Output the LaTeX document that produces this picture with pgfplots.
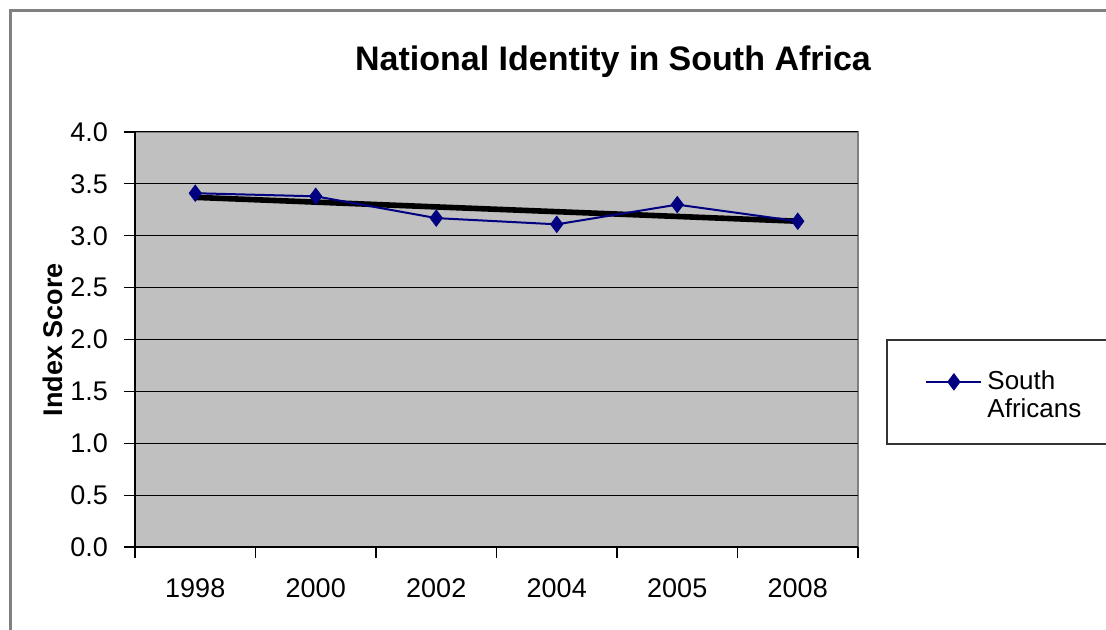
\documentclass[border=0pt]{standalone}
\usepackage{fontspec}
\setmainfont{Liberation Sans}
\usepackage{pgfplots}
\pgfplotsset{compat=1.18}
\definecolor{plotgray}{HTML}{C0C0C0}
\definecolor{navyblue}{HTML}{000080}
\begin{document}
\begin{tikzpicture}
\path[use as bounding box] (0,0) rectangle (553pt,315pt);
\draw[line width=1.5pt, color=gray] (5pt,0) -- (5pt,309.5pt) -- (553pt,309.5pt);
\node[font=\fontsize{17}{20}\selectfont\bfseries] at (306.5pt,284pt) {National Identity in South Africa};
\begin{axis}[
  at={(67.5pt,41.5pt)}, anchor=south west,
  scale only axis, width=361.5pt, height=207.5pt,
  xmin=-0.5, xmax=5.5, ymin=0, ymax=4,
  /pgf/number format/assume math mode=true,
  xtick={-0.5,0.5,...,5.5}, xticklabel=\empty,
  extra x ticks={0,1,2,3,4,5},
  extra x tick labels={1998,2000,2002,2004,2005,2008},
  extra x tick style={major tick length=0pt, grid=none, xticklabel style={yshift=-12.5pt}},
  ytick={0,0.5,...,4},
  yticklabel style={xshift=-4.5pt, /pgf/number format/fixed, /pgf/number format/fixed zerofill, /pgf/number format/precision=1},
  ymajorgrids, major grid style={black, line width=0.5pt},
  axis lines*=left, tick align=outside, major tick length=5.5pt,
  tick style={black, line width=0.6pt},
  axis line style={black, line width=0.8pt},
  axis background/.style={fill=plotgray, draw=gray, line width=1pt},
  tick label style={font=\fontsize{13.5}{16}\selectfont},
  ylabel={\bfseries Index Score},
  ylabel style={font=\fontsize{13.5}{16}\selectfont, at={(axis description cs:0,0.5)}, anchor=center, yshift=41pt},
  legend style={at={(axis description cs:1.0927,0.430)}, anchor=north west, draw=none, fill=none, inner sep=0pt,
    nodes={inner sep=1pt, font=\fontsize{13}{14}\selectfont}},
  legend cell align=left,
  legend image code/.code={\draw[mark repeat=2,mark phase=2,#1] plot coordinates {(0pt,0pt) (13.75pt,0pt) (27.5pt,0pt)};},
]
\addplot[black, line width=2.8pt, forget plot] coordinates {(0,3.37) (5,3.14)};
\addplot[navyblue, line width=1pt, mark=diamond*, mark size=3.6pt, mark options={fill=navyblue, solid}] coordinates {(0,3.41) (1,3.38) (2,3.17) (3,3.11) (4,3.30) (5,3.14)};
\addlegendentry{\hspace{1.5pt}\vtop{\hbox{South}\hbox{Africans}}}
\end{axis}
\draw[line width=0.7pt, color=black!80] (443.5pt,145pt) rectangle (560pt,93pt);
\end{tikzpicture}
\end{document}
